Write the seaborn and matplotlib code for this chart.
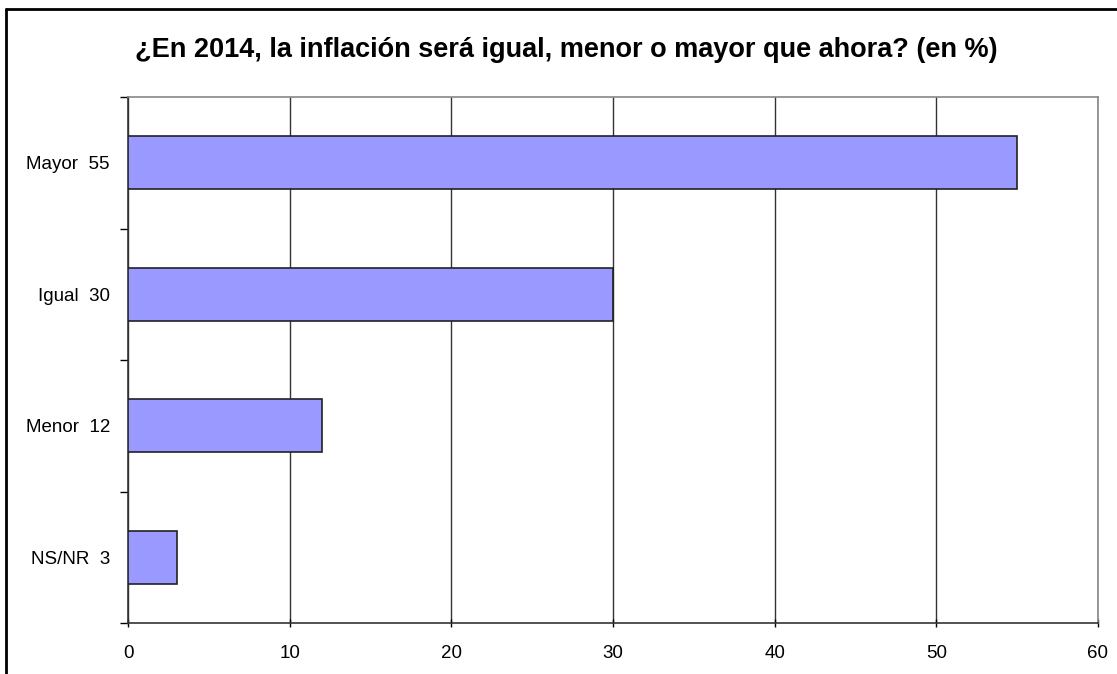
import matplotlib
matplotlib.use("Agg")
import matplotlib.pyplot as plt
import seaborn as sns
import pandas as pd
import numpy as np
from matplotlib.lines import Line2D
from matplotlib.ticker import FixedLocator

categories = ["Mayor", "Igual", "Menor", "NS/NR"]
values = [55, 30, 12, 3]
xticks = [0, 10, 20, 30, 40, 50, 60]
title = "¿En 2014, la inflación será igual, menor o mayor que ahora? (en %)"

labels = [f"{c}  {v}" for c, v in zip(categories, values)]
df = pd.DataFrame({"label": labels, "value": values})

sns.set_theme(style="white")
plt.rcParams["font.family"] = ["Liberation Sans", "DejaVu Sans"]
plt.rcParams["text.color"] = "black"
plt.rcParams["xtick.color"] = "black"
plt.rcParams["ytick.color"] = "black"

fig = plt.figure(figsize=(11.17, 6.74), dpi=100)
ax = fig.add_axes([128/1117, 1-623/674, (1098-128)/1117, (623-97)/674])

sns.barplot(data=df, y="label", x="value", orient="h", color="#9999FF",
            saturation=1, width=0.4, edgecolor="#222222", linewidth=1.2, ax=ax, zorder=3)

ax.set_xlim(0, 60)
ax.set_ylim(len(categories)-0.5, -0.5)
ax.set_xticks(xticks)
ax.set_xticklabels([str(t) for t in xticks], fontsize=13.5)
ax.set_xlabel("")
ax.set_ylabel("")
ax.tick_params(axis="y", which="major", length=0, labelsize=13.5, pad=13, labelcolor="black")
ax.yaxis.set_minor_locator(FixedLocator(np.arange(-0.5, len(categories), 1.0)))
ax.tick_params(axis="y", which="minor", length=6, width=1, direction="out", color="black", left=True)
ax.tick_params(axis="x", which="major", length=6, width=1, direction="inout", color="black", bottom=True, pad=13, labelcolor="black")

ax.xaxis.grid(True, color="#333333", linewidth=1, zorder=0)
ax.set_axisbelow(True)
for s in ["top", "right"]:
    ax.spines[s].set_color("#888888")
    ax.spines[s].set_linewidth(1.2)
for s in ["left", "bottom"]:
    ax.spines[s].set_color("#333333")
    ax.spines[s].set_linewidth(1.2)
    ax.spines[s].set_visible(True)

fig.text(566/1117, 1-50/674, title, ha="center", va="center", fontsize=19.5, fontweight="bold", color="black")

# outer frame
fig.add_artist(Line2D([6/1117, 6/1117], [0, 1-9/674], transform=fig.transFigure, color="black", linewidth=2))
fig.add_artist(Line2D([6/1117, 1], [1-9/674, 1-9/674], transform=fig.transFigure, color="black", linewidth=2))

fig.savefig("out.png", dpi=100)
